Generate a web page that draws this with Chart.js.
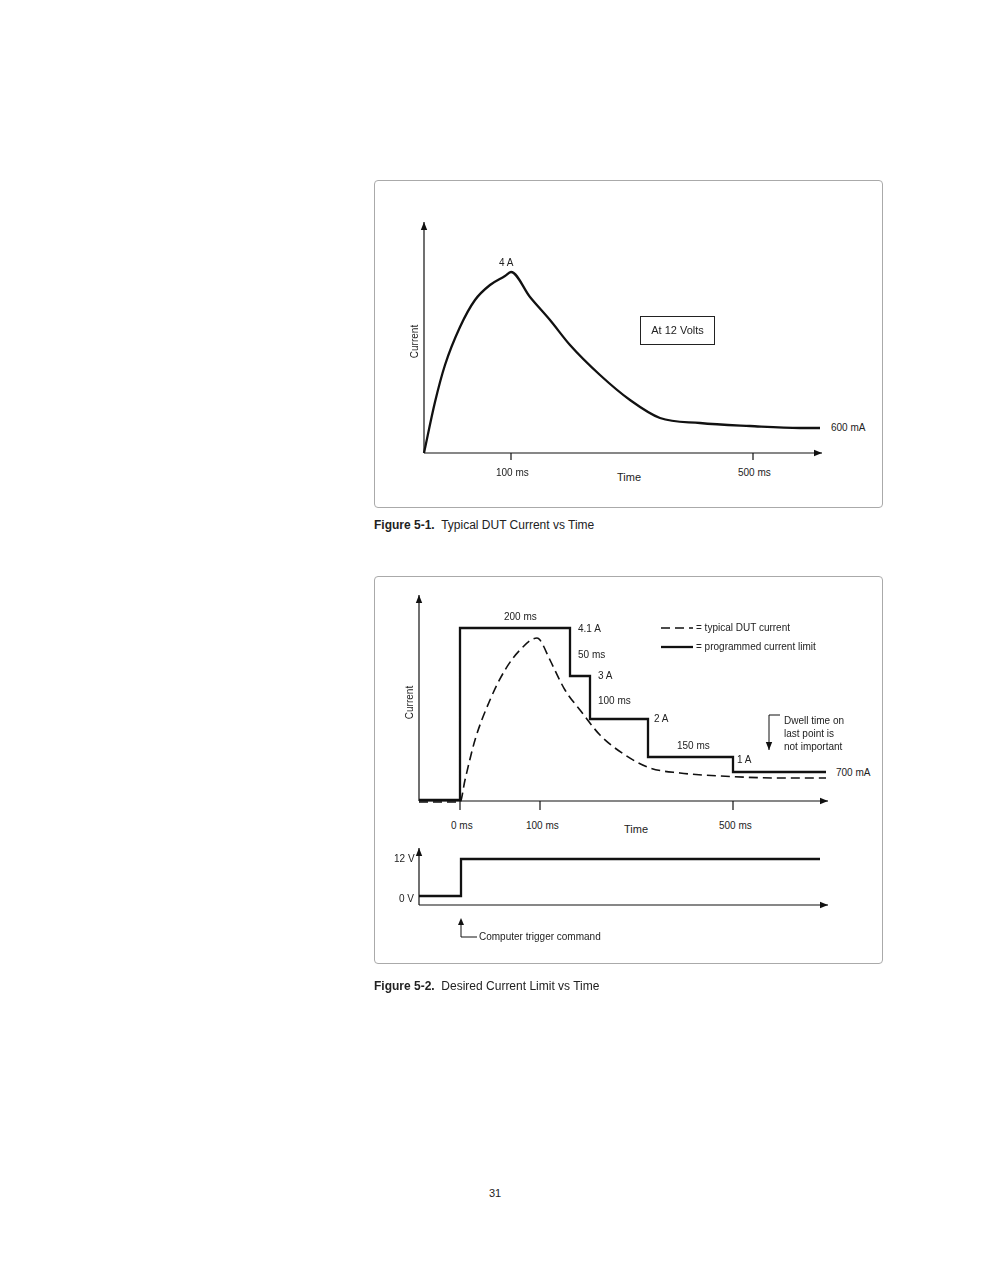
<!DOCTYPE html>
<html><head><meta charset="utf-8">
<script src="https://cdn.jsdelivr.net/npm/chart.js@4/dist/chart.umd.min.js"></script>
<style>
body{margin:0;width:989px;height:1280px;background:#fff;position:relative;font-family:"Liberation Sans Narrow","Liberation Sans",Arial,sans-serif;color:#222}
.frame{position:absolute;border:1px solid #aaa;border-radius:4px}
.t{position:absolute;font-size:10px;white-space:nowrap}
.c{position:absolute}
.cap{position:absolute;font-size:12px}
</style></head><body>
<div class="frame" style="left:374px;top:180px;width:507px;height:326px"></div>
<div class="frame" style="left:374px;top:576px;width:507px;height:386px"></div>
<div class="c" style="left:419px;top:215px;width:410px;height:245px"><canvas id="c1"></canvas></div>
<div class="c" style="left:414px;top:590px;width:420px;height:220px"><canvas id="c2"></canvas></div>
<div class="c" style="left:414px;top:845px;width:420px;height:70px"><canvas id="c3"></canvas></div>

<div class="t" style="left:499px;top:257px">4 A</div>
<div class="t" style="left:398px;top:336px;transform:rotate(-90deg);transform-origin:center">Current</div>
<div class="t" style="left:640px;top:316px;width:73px;height:27px;border:1.5px solid #222;line-height:27px;text-align:center;font-size:11px">At 12 Volts</div>
<div class="t" style="left:496px;top:467px">100 ms</div>
<div class="t" style="left:738px;top:467px">500 ms</div>
<div class="t" style="left:617px;top:471px;font-size:11px">Time</div>
<div class="t" style="left:831px;top:422px">600 mA</div>
<div class="cap" style="left:374px;top:518px"><b>Figure 5-1.</b>&nbsp; Typical DUT Current vs Time</div>

<div class="t" style="left:504px;top:611px">200 ms</div>
<div class="t" style="left:578px;top:623px">4.1 A</div>
<div class="t" style="left:578px;top:649px">50 ms</div>
<div class="t" style="left:598px;top:670px">3 A</div>
<div class="t" style="left:598px;top:695px">100 ms</div>
<div class="t" style="left:654px;top:713px">2 A</div>
<div class="t" style="left:677px;top:740px">150 ms</div>
<div class="t" style="left:737px;top:754px">1 A</div>
<div class="t" style="left:836px;top:767px">700 mA</div>
<div class="t" style="left:784px;top:714px;line-height:13px">Dwell time on<br>last point is<br>not important</div>
<div class="t" style="left:696px;top:622px">= typical DUT current</div>
<div class="t" style="left:696px;top:641px">= programmed current limit</div>
<div class="t" style="left:393px;top:697px;transform:rotate(-90deg)">Current</div>
<div class="t" style="left:451px;top:820px">0 ms</div>
<div class="t" style="left:526px;top:820px">100 ms</div>
<div class="t" style="left:719px;top:820px">500 ms</div>
<div class="t" style="left:624px;top:823px;font-size:11px">Time</div>
<div class="t" style="left:394px;top:853px">12 V</div>
<div class="t" style="left:399px;top:893px">0 V</div>
<div class="t" style="left:479px;top:931px">Computer trigger command</div>
<div class="cap" style="left:374px;top:979px"><b>Figure 5-2.</b>&nbsp; Desired Current Limit vs Time</div>
<div class="t" style="left:489px;top:1187px;font-size:11px">31</div>

<script>
// Figure 5-1 (schematic units)
const dutX = [5,16,26,41,56,71,86,92,111,131,151,181,211,241,281,331,381,401];
const dutY = [7,58,95,133,160,175,184,188,163,140,115,85,60,42,37,34,32,32];
// Figure 5-2 top
const limX = [5,46,46,156,156,176,176,234,234,319,319,412];
const limY = [10,10,182,182,134,134,91,91,53,53,38,38];
const typX = [5,46,51,61,76,91,106,123,126,136,151,166,186,211,236,266,306,366,412];
const typY = [8,8,30,70,110,140,160,172,170,150,120,100,75,55,42,37,34,32,32];
// Figure 5-2 bottom (voltage)
const vX = [5,47,47,406];
const vY = [19,19,56,56];

function arrow(ctx,x1,y1,x2,y2){
  ctx.beginPath();ctx.moveTo(x1,y1);ctx.lineTo(x2,y2);ctx.stroke();
  const a=Math.atan2(y2-y1,x2-x1),L=8,w=3.2;
  ctx.beginPath();ctx.moveTo(x2,y2);
  ctx.lineTo(x2-L*Math.cos(a)+w*Math.sin(a),y2-L*Math.sin(a)-w*Math.cos(a));
  ctx.lineTo(x2-L*Math.cos(a)-w*Math.sin(a),y2-L*Math.sin(a)+w*Math.cos(a));
  ctx.closePath();ctx.fill();
}
function mk(id,W,H,datasets,extra){
  new Chart(document.getElementById(id),{type:'line',
    data:{datasets},
    options:{responsive:true,maintainAspectRatio:false,animation:false,
      layout:{padding:0},
      plugins:{legend:{display:false},tooltip:{enabled:false}},
      scales:{x:{type:'linear',min:0,max:W,display:false},y:{min:0,max:H,display:false}},
      elements:{point:{radius:0}}},
    plugins:[{id:'ax',afterDraw(ch){const c=ch.ctx,X=v=>ch.scales.x.getPixelForValue(v),Y=v=>ch.scales.y.getPixelForValue(v);
      c.save();c.strokeStyle='#111';c.fillStyle='#111';c.lineWidth=1.2;extra(c,X,Y);c.restore();}}]
  });
}
const pts=(xs,ys)=>xs.map((x,i)=>({x,y:ys[i]}));
mk('c1',410,245,[{data:pts(dutX,dutY),borderColor:'#111',borderWidth:2.3,cubicInterpolationMode:'monotone'}],
 (c,X,Y)=>{arrow(c,X(5),Y(7),X(5),Y(238));arrow(c,X(5),Y(7),X(403),Y(7));
  [92,334].forEach(v=>{c.beginPath();c.moveTo(X(v),Y(7));c.lineTo(X(v),Y(-2));c.stroke();});});
mk('c2',420,220,[
 {data:pts(limX,limY),borderColor:'#111',borderWidth:2.3,tension:0},
 {data:pts(typX,typY),borderColor:'#111',borderWidth:1.6,borderDash:[9,5],cubicInterpolationMode:'monotone'}],
 (c,X,Y)=>{arrow(c,X(5),Y(9),X(5),Y(215));arrow(c,X(5),Y(9),X(414),Y(9));
  [46,126,319].forEach(v=>{c.beginPath();c.moveTo(X(v),Y(9));c.lineTo(X(v),Y(0));c.stroke();});
  c.lineWidth=1.4;c.setLineDash([9,5]);c.beginPath();c.moveTo(X(247),Y(182));c.lineTo(X(279),Y(182));c.stroke();
  c.setLineDash([]);c.lineWidth=2.3;c.beginPath();c.moveTo(X(247),Y(163));c.lineTo(X(279),Y(163));c.stroke();
  c.lineWidth=1;c.beginPath();c.moveTo(X(366),Y(95));c.lineTo(X(355),Y(95));c.stroke();
  arrow(c,X(355),Y(95),X(355),Y(60));});
mk('c3',420,70,[{data:pts(vX,vY),borderColor:'#111',borderWidth:2.3,tension:0}],
 (c,X,Y)=>{arrow(c,X(5),Y(10),X(5),Y(67));arrow(c,X(5),Y(10),X(414),Y(10));});
</script>
<div class="c" style="left:455px;top:916px;width:30px;height:30px"><canvas id="c4" width="30" height="30"></canvas></div>
<script>
(function(){const c=document.getElementById('c4').getContext('2d');c.strokeStyle='#111';c.fillStyle='#111';c.lineWidth=1;
c.beginPath();c.moveTo(6,5);c.lineTo(6,21);c.lineTo(22,21);c.stroke();
c.beginPath();c.moveTo(6,2);c.lineTo(3,9);c.lineTo(9,9);c.closePath();c.fill();})();
</script>
</body></html>
